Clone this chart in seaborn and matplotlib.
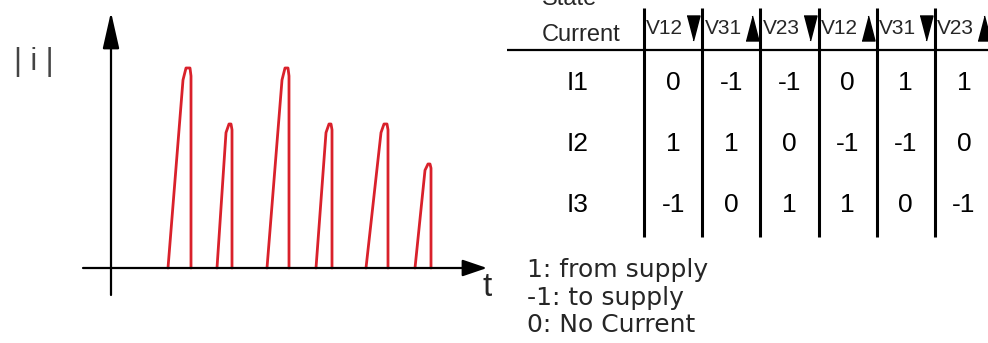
import numpy as np
import pandas as pd
import matplotlib
matplotlib.use("Agg")
import matplotlib.pyplot as plt
import seaborn as sns
from matplotlib.colors import ListedColormap

# |i| pulse train (t in arbitrary units, height relative to the tallest pulse)
pulse_start = [5.7, 10.6, 15.6, 20.5, 25.5, 30.4]
pulse_peak = [7.5, 11.8, 17.4, 21.8, 27.3, 31.7]
pulse_end = [8.0, 12.1, 17.8, 22.1, 27.7, 32.0]
pulse_height = [1.0, 0.72, 1.0, 0.72, 0.72, 0.52]

# switching state table
row_labels = ["I1", "I2", "I3"]
col_labels = ["V12", "V31", "V23", "V12", "V31", "V23"]
col_edge = ["falling", "rising", "falling", "rising", "falling", "rising"]
i1_state = [0, -1, -1, 0, 1, 1]
i2_state = [1, 1, 0, -1, -1, 0]
i3_state = [-1, 0, 1, 1, 0, -1]
legend_lines = ["1: from supply", "-1: to supply", "0: No Current"]

sns.set_theme(style="white")
plt.rcParams["font.family"] = ["Liberation Sans", "DejaVu Sans"]

W, H = 988, 343
fig = plt.figure(figsize=(W / 100, H / 100), dpi=100)
fig.patch.set_facecolor("white")

# ---- waveform ----
ax_w = fig.add_axes([0, 0, 500 / W, 1])
rows = []
for k, (t0, tp, t1, h) in enumerate(zip(pulse_start, pulse_peak, pulse_end, pulse_height)):
    shape = [(t0, 0), (tp - 0.3, 0.94 * h), (tp, h), (t1 - 0.1, h), (t1, 0.96 * h), (t1, 0)]
    for t, a in shape:
        rows.append({"pulse": k, "t": t, "i": a})
wave = pd.DataFrame(rows)

sns.lineplot(data=wave, x="t", y="i", units="pulse", estimator=None, sort=False,
             color="#d9212b", lw=2.0, ax=ax_w, legend=False)
ax_w.set_xlim(-11.1, 38.9)
ax_w.set_ylim(-0.375, 1.34)
ax_w.axis("off")

ax_w.annotate("", xy=(0, 1.28), xytext=(0, -0.135),
              arrowprops=dict(arrowstyle="-|>,head_length=0.75,head_width=0.17",
                              mutation_scale=30, color="black", lw=1.6,
                              shrinkA=0, shrinkB=0))
ax_w.annotate("", xy=(37.6, 0), xytext=(-2.8, 0),
              arrowprops=dict(arrowstyle="-|>,head_length=0.5,head_width=0.17",
                              mutation_scale=30, color="black", lw=1.6,
                              shrinkA=0, shrinkB=0))
ax_w.text(37.6, -0.1, "t", ha="center", va="center", fontsize=24)
ax_w.text(-7.7, 1.03, "| i |", ha="center", va="center", fontsize=22, color="#444444")

# ---- state table ----
states = pd.DataFrame([i1_state, i2_state, i3_state], index=row_labels)
tab = fig.add_axes([644 / W, (H - 235.5) / H, 349 / W, 183 / H])
sns.heatmap(states, annot=True, fmt="d", cmap=ListedColormap(["white"]), cbar=False,
            xticklabels=False, yticklabels=row_labels, linewidths=0, ax=tab,
            annot_kws=dict(size=19, color="black"))
tab.tick_params(axis="y", length=0, pad=40, labelsize=19, labelcolor="black")
plt.setp(tab.get_yticklabels(), rotation=0)

tab.vlines(range(len(col_labels)), -0.73, 3.02, colors="black", lw=2.2, clip_on=False)
tab.hlines(-0.04, -2.35, 6.2, colors="black", lw=1.6, clip_on=False)

tri_down = [(-0.26, 0.5), (0.26, 0.5), (0, -0.5)]
tri_up = [(-0.26, -0.5), (0.26, -0.5), (0, 0.5)]
for j, (lab, edge) in enumerate(zip(col_labels, col_edge)):
    tab.text(j + 0.04, -0.31, lab, ha="left", va="baseline", fontsize=15)
    tab.plot(j + 0.85, -0.40, marker=tri_down if edge == "falling" else tri_up,
             ms=18, color="black", clip_on=False)

tab.text(-1.75, -0.19, "Current", ha="left", va="baseline", fontsize=17)
tab.text(-1.75, -0.78, "State", ha="left", va="baseline", fontsize=17)

for k, line in enumerate(legend_lines):
    fig.text(527 / W, 1 - (277 + 27.5 * k) / H, line, ha="left", va="baseline",
             fontsize=18, family="DejaVu Sans")

fig.savefig("out.png", dpi=100, facecolor="white")
